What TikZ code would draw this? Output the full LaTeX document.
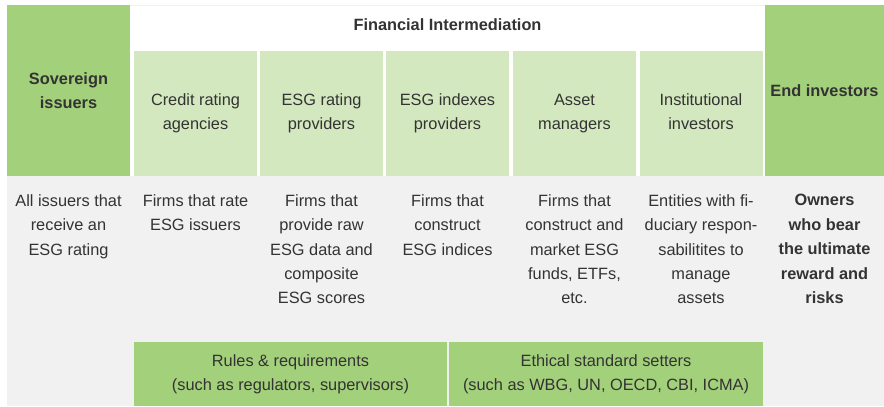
\documentclass[tikz,border=0pt]{standalone}
\usepackage{fontspec}
\setmainfont{Liberation Sans}
\begin{document}
\begin{tikzpicture}[x=0.02cm,y=-0.02cm,
        box/.style={inner sep=0pt,align=center,text=txt,font=\fontsize{9.3}{13.9}\selectfont},
        top/.style={box,fill=gdark,minimum height=3.42cm,font=\fontsize{9.3}{13.9}\selectfont\bfseries},
        light/.style={box,fill=glight,minimum width=2.46cm,minimum height=2.5cm,
            execute at end node=\vphantom{g}},
        rule/.style={box,fill=gdark,minimum height=1.28cm},
        desc/.style={box,anchor=north}]
    \definecolor{gdark}{HTML}{A3D07B}
    \definecolor{glight}{HTML}{D3E8BE}
    \definecolor{gback}{HTML}{F1F1F2}
    \colorlet{txt}{black!80}

    \useasboundingbox (0,0) rectangle (884,406);
    \fill [gback] (7,5) rectangle (884,406);
    \fill [white] (130,6) rectangle (765,176);

    \node [box,font=\fontsize{9.3}{13.9}\selectfont\bfseries] (fin) at (447.5,25) {Financial Intermediation};
    \node [top,minimum width=2.46cm] (sov) at (68.5,90.5) {Sovereign\\issuers};
    \node [top,minimum width=2.38cm] (end) at (824.5,90.5) {End investors};

    \foreach \n/\x/\t in {cra/195.5/{Credit rating\\agencies},esgr/321.5/{ESG rating\\providers},
            esgi/447.5/{ESG indexes\\providers},am/574.5/{Asset\\managers},ii/701/{Institutional\\investors}} {
        \node [light] (\n) at (\x,113.5) {\t};
    }

    \foreach \n/\x/\t in {sov/68.5/{All issuers that\\receive an\\ESG rating},cra/195.5/{Firms that rate\\ESG issuers},
            esgr/321.5/{Firms that\\provide raw\\ESG data and\\composite\\ESG scores},
            esgi/447.5/{Firms that\\construct\\ESG indices},
            am/574.5/{Firms that\\construct and\\market ESG\\funds, ETFs,\\etc.},
            ii/701/{Entities with fi-\\duciary respon-\\sabilitites to\\manage\\assets}} {
        \node [desc] (d-\n) at (\x,194) {\t};
    }
    \node [desc,font=\fontsize{9.3}{13.9}\selectfont\bfseries] (d-end) at (824.5,194) {Owners\\who bear\\the ultimate\\reward and\\risks};

    \node [rule,minimum width=6.26cm] (rules) at (290.5,374) {Rules \& requirements\\(such as regulators, supervisors)};
    \node [rule,minimum width=6.28cm] (ethic) at (606,374) {Ethical standard setters\\(such as WBG, UN, OECD, CBI, ICMA)};
\end{tikzpicture}
\end{document}
